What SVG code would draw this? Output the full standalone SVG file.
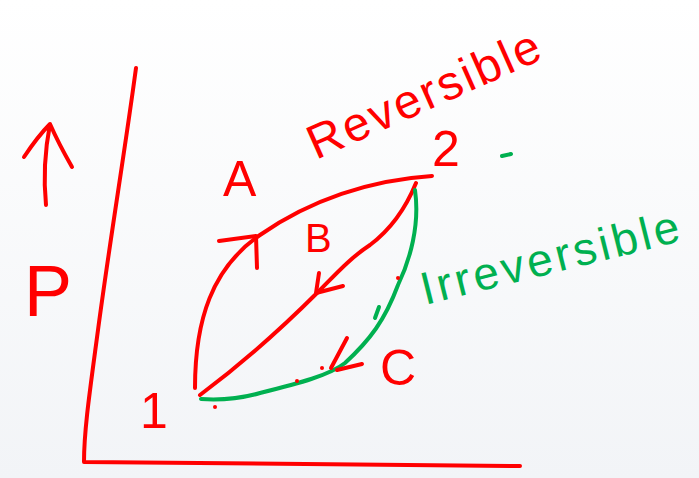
<svg xmlns="http://www.w3.org/2000/svg" width="699" height="478" viewBox="0 0 699 478">
<defs>
<linearGradient id="bg" x1="0" y1="0" x2="0" y2="1">
<stop offset="0" stop-color="#ffffff"/>
<stop offset="1" stop-color="#f2f4f7"/>
</linearGradient>
<style>
.r{fill:none;stroke:#ff0000;stroke-width:4;stroke-linecap:round;stroke-linejoin:round}
.g{fill:none;stroke:#00b050;stroke-width:4;stroke-linecap:round;stroke-linejoin:round}
.tr{fill:#ff0000;font-family:"Liberation Sans",Arial,sans-serif}
.tg{fill:#00b050;font-family:"Liberation Sans",Arial,sans-serif}
.dot{fill:#ff0000}
</style>
</defs>
<rect width="699" height="478" fill="url(#bg)"/>
<g id="axes">
<path class="r" d="M136,68 C125,150 110,240 98,330 C90,390 84,430 84,462 L520,466"/>
<path class="r" d="M46,205 C43,175 45,150 50,124 M24,157 C32,145 42,132 50,124 C57,140 64,153 72,167"/>
<text class="tr" x="24" y="316" font-size="72">P</text>
</g>
<g id="connectors">
<path id="pathA" class="r" d="M195,388 C195,320 212,268 260,235 C310,200 370,180 432,176"/>
<path class="r" d="M219,241 L256,236 L257,268"/>
<path id="pathB" class="r" d="M416,183 C405,210 390,230 370,245 C350,258 335,275 317,293 C280,330 240,365 200,395"/>
<path class="r" d="M319,273 L316,293 L343,286"/>
<path id="pathC" class="g" d="M415,190 C420,225 410,260 398,285 C385,320 370,340 345,363 C330,375 300,383 260,393 C235,400 215,400 201,399"/>
<path class="g" d="M379,307 L375,318"/>
<path class="r" d="M347,338 L331,368 M337,370 L362,364"/>
<circle class="dot" cx="398" cy="278" r="2"/>
<circle class="dot" cx="297" cy="381" r="2"/>
<circle class="dot" cx="322" cy="368" r="2"/>
<circle class="dot" cx="215" cy="407" r="2"/>
<path class="g" d="M502,156 L511,154"/>
</g>
<g id="labels">
<text class="tr" x="223" y="196" font-size="50">A</text>
<text class="tr" x="432" y="166" font-size="50">2</text>
<text class="tr" x="305" y="252" font-size="40">B</text>
<text class="tr" x="380" y="385" font-size="50">C</text>
<text class="tr" x="140" y="428" font-size="50">1</text>
<text class="tr" font-size="48" textLength="250" lengthAdjust="spacing" transform="translate(316,160) rotate(-24)">Reversible</text>
<text class="tg" font-size="46" textLength="265" lengthAdjust="spacing" transform="translate(425,305) rotate(-14)">Irreversible</text>
</g>
</svg>
